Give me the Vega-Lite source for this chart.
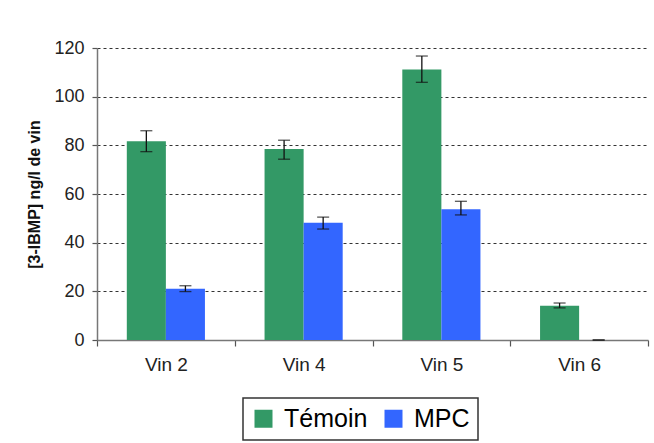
{
  "$schema": "https://vega.github.io/schema/vega-lite/v6.json",
  "autosize": {"type": "none"},
  "width": 551,
  "height": 292,
  "padding": {"left": 97, "top": 48, "right": 6, "bottom": 103},
  "background": "white",
  "config": {"view": {"stroke": null}, "font": "Liberation Sans", "legend": {"strokeWidth": 1.5}},
  "data": {
    "values": [
      {"wine": "Vin 2", "group": "Témoin", "value": 81.7, "lo": 77.4, "hi": 86.0},
      {"wine": "Vin 2", "group": "MPC", "value": 21.1, "lo": 19.9, "hi": 22.3},
      {"wine": "Vin 4", "group": "Témoin", "value": 78.5, "lo": 74.3, "hi": 82.1},
      {"wine": "Vin 4", "group": "MPC", "value": 48.2, "lo": 45.6, "hi": 50.5},
      {"wine": "Vin 5", "group": "Témoin", "value": 111.2, "lo": 105.9, "hi": 116.7},
      {"wine": "Vin 5", "group": "MPC", "value": 53.7, "lo": 51.4, "hi": 57.0},
      {"wine": "Vin 6", "group": "Témoin", "value": 14.1, "lo": 13.2, "hi": 15.2},
      {"wine": "Vin 6", "group": "MPC", "value": 0, "lo": 0, "hi": 0}
    ]
  },
  "encoding": {
    "x": {
      "field": "wine",
      "type": "nominal",
      "sort": ["Vin 2", "Vin 4", "Vin 5", "Vin 6"],
      "scale": {"paddingInner": 0, "paddingOuter": 0},
      "axis": {
        "title": null,
        "labelAngle": 0,
        "tickBand": "extent",
        "domainColor": "#777777",
        "domainWidth": 1.5,
        "tickColor": "#555555",
        "tickSize": 6,
        "tickWidth": 1.2,
        "labelFont": "Liberation Sans",
        "labelFontSize": 19,
        "labelColor": "#222222",
        "labelPadding": 9,
        "labelDx": -5,
        "grid": false
      }
    },
    "xOffset": {
      "field": "group",
      "type": "nominal",
      "sort": ["Témoin", "MPC"],
      "scale": {"paddingInner": 0, "paddingOuter": 0.763}
    }
  },
  "layer": [
    {
      "mark": {"type": "bar"},
      "encoding": {
        "y": {
          "field": "value",
          "type": "quantitative",
          "scale": {"domain": [0, 120], "nice": false},
          "axis": {
            "title": "[3-IBMP] ng/l de vin",
            "titleFont": "Liberation Sans",
            "titleFontSize": 16,
            "titleFontWeight": "bold",
            "titleColor": "#111111",
            "titlePadding": 11,
            "values": [0, 20, 40, 60, 80, 100, 120],
            "grid": true,
            "gridDash": [3, 3],
            "gridColor": "#333333",
            "gridWidth": 1.2,
            "domainColor": "#777777",
            "domainWidth": 1.5,
            "tickColor": "#555555",
            "tickSize": 5,
            "tickWidth": 1.2,
            "labelFont": "Liberation Sans",
            "labelFontSize": 18,
            "labelColor": "#222222",
            "labelPadding": 8
          }
        },
        "color": {
          "field": "group",
          "type": "nominal",
          "sort": ["Témoin", "MPC"],
          "scale": {"domain": ["Témoin", "MPC"], "range": ["#339966", "#3366FF"]},
          "legend": {
            "title": null,
            "orient": "none",
            "legendX": 146,
            "legendY": 350,
            "direction": "horizontal",
            "strokeColor": "#333333",
            "fillColor": "white",
            "padding": 8,
            "symbolType": "square",
            "symbolSize": 324,
            "symbolStrokeWidth": 0,
            "symbolOpacity": 1,
            "labelFont": "Liberation Sans",
            "labelFontSize": 25,
            "labelColor": "#000000",
            "labelOffset": 8,
            "columnPadding": 13
          }
        }
      }
    },
    {
      "mark": {"type": "rule", "color": "#111111", "strokeWidth": 1.3},
      "encoding": {
        "y": {"field": "lo", "type": "quantitative"},
        "y2": {"field": "hi"}
      }
    },
    {
      "mark": {"type": "tick", "orient": "horizontal", "size": 12, "thickness": 1.3, "color": "#111111"},
      "encoding": {"y": {"field": "lo", "type": "quantitative"}}
    },
    {
      "mark": {"type": "tick", "orient": "horizontal", "size": 12, "thickness": 1.3, "color": "#111111"},
      "encoding": {"y": {"field": "hi", "type": "quantitative"}}
    }
  ]
}
